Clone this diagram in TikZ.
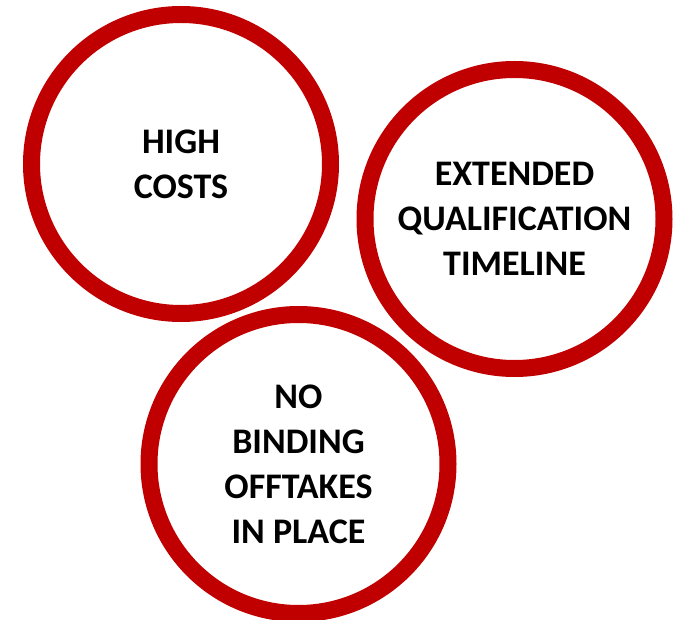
\documentclass[tikz,border=0pt]{standalone}
\usepackage{fontspec}
\setmainfont{Carlito}
\usepackage{tikz}

\definecolor{ringred}{HTML}{C00000}

\begin{document}
\begin{tikzpicture}[x=1pt,y=-1pt,
    bubble/.style={circle,draw=ringred,line width=17pt,fill=white,
        minimum size=299pt,inner sep=0pt,align=center,text=black,
        font=\fontsize{36}{45}\selectfont\bfseries}]

\useasboundingbox (0,0) rectangle (681,620);

\node [bubble] (costs) at (181,164) {HIGH\\COSTS};
\node [bubble] (qual) at (514.5,219) {EXTENDED\\QUALIFICATION\\TIMELINE};
\node [bubble] (offtake) at (298.5,464) {NO\\BINDING\\OFFTAKES\\IN PLACE};

\end{tikzpicture}
\end{document}
